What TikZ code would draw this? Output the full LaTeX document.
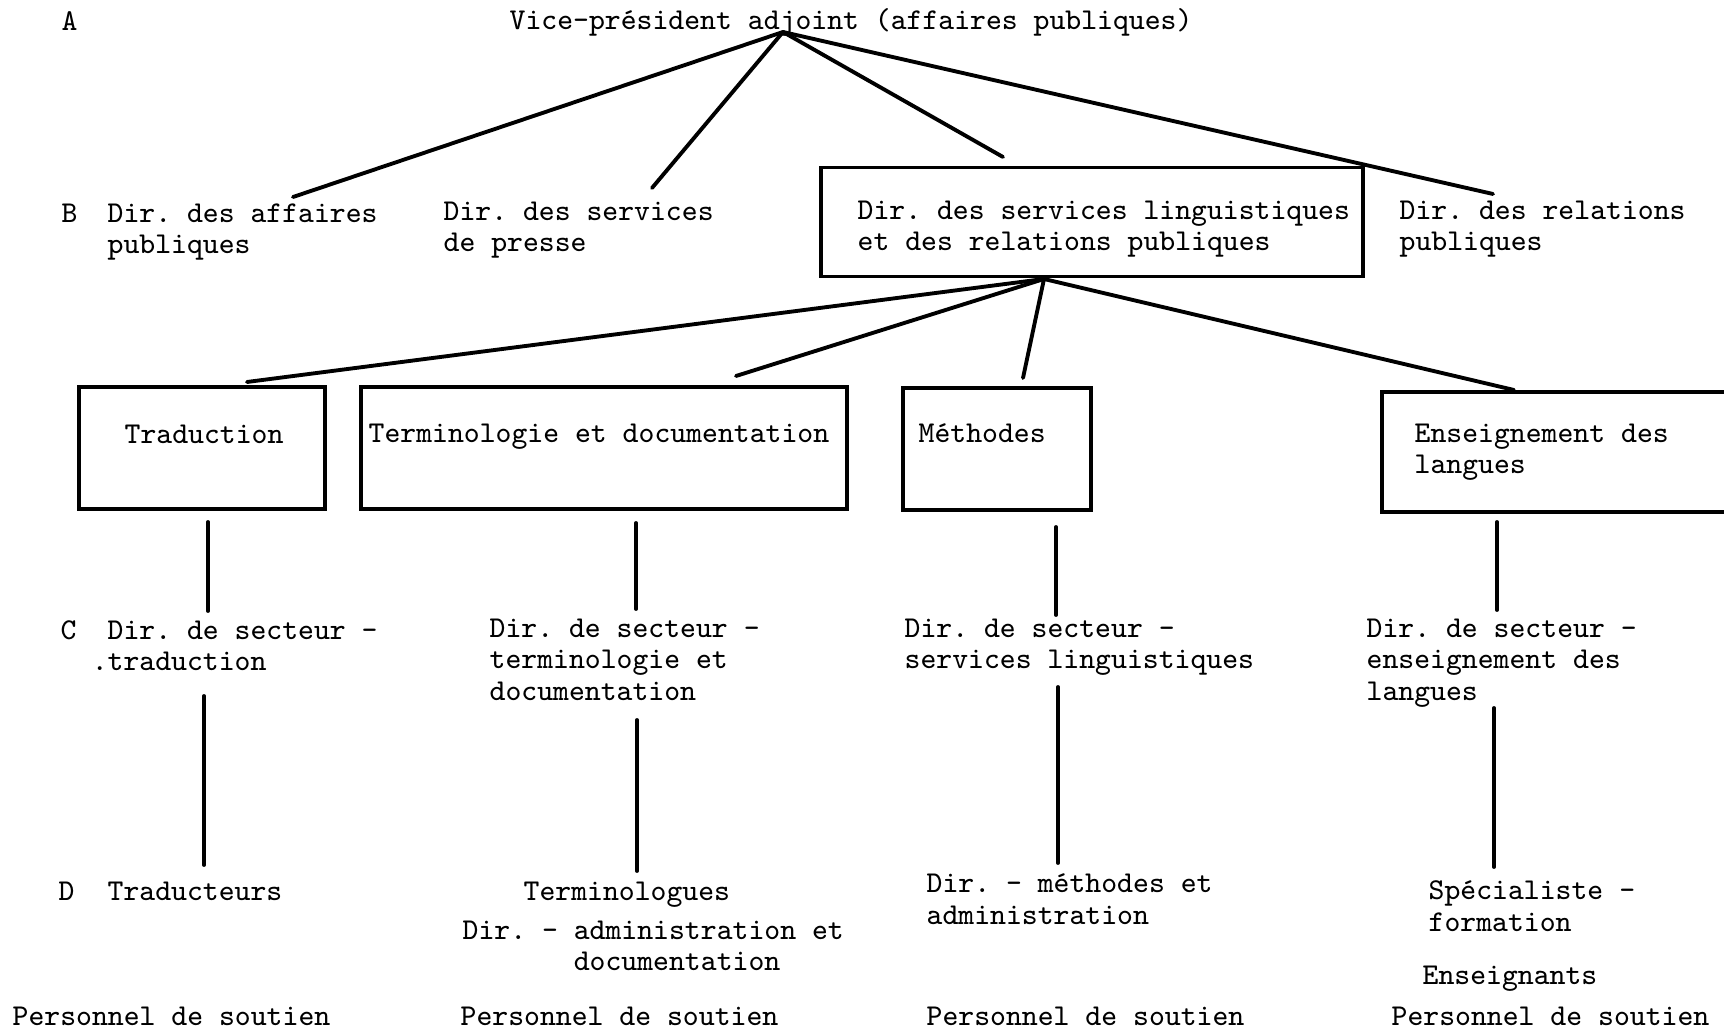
\documentclass[tikz,border=0pt]{standalone}
\usepackage{fontspec}

\begin{document}
\frenchspacing
\begin{tikzpicture}[x=0.01cm, y=-0.01cm,
  txt/.style={font=\ttfamily\fontsize{8.6}{9}\selectfont, inner sep=0pt, anchor=north west, align=left},
  box/.style={draw, line width=1.1pt, inner sep=0pt},
  link/.style={line width=1.1pt, line cap=round}]
\clip (0,0) rectangle (1724,1034);
% Level letters
\node[txt] (lA) at (61,11) {A};
\node[txt] (lB) at (61,203) {B};
\node[txt] (lC) at (60,620) {C};
\node[txt] (lD) at (58,881) {D};
% Level A
\node[txt] (vp) at (509,8) {Vice-président adjoint (affaires publiques)};
% Level B
\node[txt] (aff) at (107,203) {Dir. des affaires\\publiques};
\node[txt] (pres) at (443,201) {Dir. des services\\de presse};
\node[box, minimum width=5.42cm, minimum height=1.09cm] (ling) at (1092,222) {};
\node[txt] (lingT) at (857,200) {Dir. des services linguistiques\\et des relations publiques};
\node[txt] (rel) at (1399,200) {Dir. des relations\\publiques};
% Sections
\node[box, minimum width=2.46cm, minimum height=1.22cm] (trad) at (202,448) {};
\node[txt] (tradT) at (124,424) {Traduction};
\node[box, minimum width=4.86cm, minimum height=1.22cm] (term) at (604,448) {};
\node[txt] (termT) at (368,423) {Terminologie et documentation};
\node[box, minimum width=1.88cm, minimum height=1.22cm] (meth) at (997,449) {};
\node[txt] (methT) at (918,423) {Méthodes};
\node[box, minimum width=3.80cm, minimum height=1.20cm] (ens) at (1572,452) {};
\node[txt] (ensT) at (1414,423) {Enseignement des\\langues};
% Level C
\node[txt] (secTrad) at (107,620) {Dir. de secteur -\\\llap{.}traduction};
\node[txt] (secTerm) at (489,618) {Dir. de secteur -\\terminologie et\\documentation};
\node[txt] (secServ) at (904,618) {Dir. de secteur -\\services linguistiques};
\node[txt] (secEns) at (1366,618) {Dir. de secteur -\\enseignement des\\langues};
% Level D
\node[txt] (traducteurs) at (107,881) {Traducteurs};
\node[txt] (terminologues) at (523,881) {Terminologues};
\node[txt] (dirAdm) at (462,920) {Dir. - administration et\\\phantom{Dir.\ -\ }documentation};
\node[txt] (dirMeth) at (926,873) {Dir. - méthodes et\\administration};
\node[txt] (specForm) at (1428,880) {Spécialiste -\\formation};
\node[txt] (enseignants) at (1422,965) {Enseignants};
% Support staff
\foreach \x [count=\i] in {12,460,926,1391}
  \node[txt] (pers\i) at (\x,1006) {Personnel de soutien};
% Connector ends
\coordinate (vpA) at (783,32);
\coordinate (affE) at (293,197);
\coordinate (presE) at (652,188);
\coordinate (lingE) at (1003,157);
\coordinate (relE) at (1493,194);
\coordinate (lingA) at (1044,279);
\coordinate (tradE) at (247,382);
\coordinate (termE) at (736,376);
\coordinate (methE) at (1023,378);
\coordinate (ensE) at (1514,390);
% A to B
\foreach \e in {affE,presE,lingE,relE}
  \draw[link] (vpA) -- (\e);
% B to sections
\foreach \e in {tradE,termE,methE,ensE}
  \draw[link] (lingA) -- (\e);
% Vertical links
\coordinate (t1) at (208,522); \coordinate (t2) at (208,611);
\coordinate (t3) at (204,696); \coordinate (t4) at (204,865);
\coordinate (d1) at (636,523); \coordinate (d2) at (636,609);
\coordinate (d3) at (637,720); \coordinate (d4) at (637,871);
\coordinate (m1) at (1056,527); \coordinate (m2) at (1056,615);
\coordinate (m3) at (1058,687); \coordinate (m4) at (1058,863);
\coordinate (e1) at (1497,522); \coordinate (e2) at (1497,610);
\coordinate (e3) at (1494,708); \coordinate (e4) at (1494,867);
\foreach \c in {t,d,m,e} {
  \draw[link] (\c1) -- (\c2);
  \draw[link] (\c3) -- (\c4);
}
\end{tikzpicture}
\end{document}
